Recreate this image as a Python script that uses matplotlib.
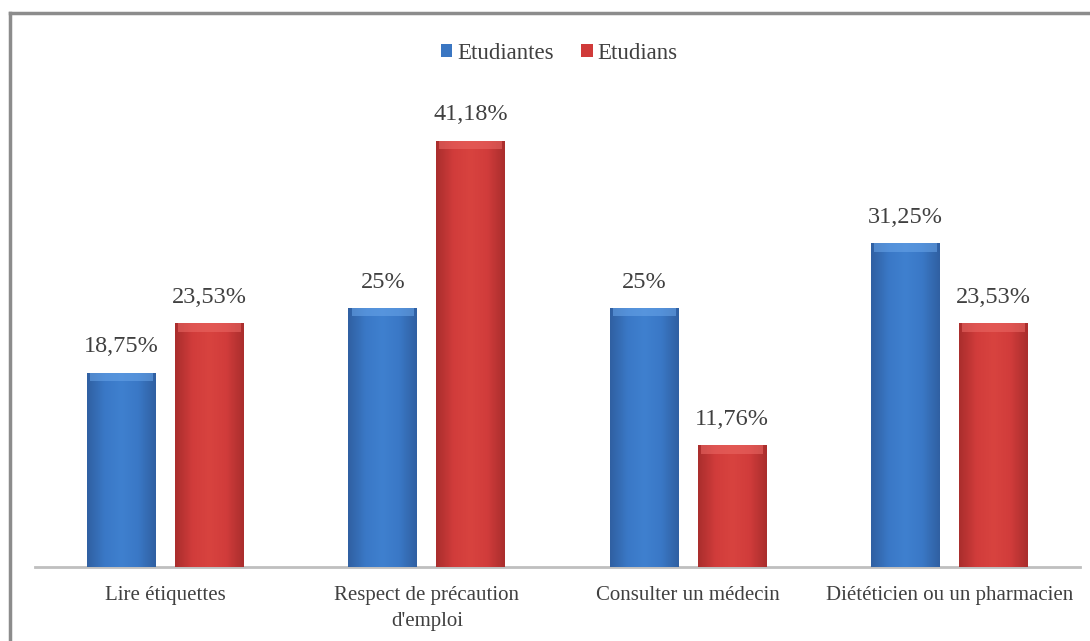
import numpy as np
import matplotlib.pyplot as plt
from matplotlib.lines import Line2D
from matplotlib.colors import LinearSegmentedColormap

categories = ["Lire étiquettes", "Respect de précaution\nd'emploi",
              "Consulter un médecin", "Diététicien ou un pharmacien"]
etudiantes = [18.75, 25, 25, 31.25]
etudians = [23.53, 41.18, 11.76, 23.53]
labels_f = ["18,75%", "25%", "25%", "31,25%"]
labels_m = ["23,53%", "41,18%", "11,76%", "23,53%"]

plt.rcParams['font.family'] = ['Liberation Serif', 'DejaVu Serif']

blue_cm = LinearSegmentedColormap.from_list(
    'b', ['#3060a2', '#3a78c6', '#3f80cf', '#3a78c6', '#3060a2'])
red_cm = LinearSegmentedColormap.from_list(
    'r', ['#aa2e2d', '#d13c3b', '#d8433f', '#d13c3b', '#aa2e2d'])

fig = plt.figure(figsize=(10.9, 6.41), dpi=100)
ax = fig.add_axes([0.032, 0.1154, 0.959, 0.727])

x = np.arange(len(categories))
w = 0.264
off = 0.168
bars_f = ax.bar(x - off, etudiantes, w, color='#3a76c2', label='Etudiantes', zorder=2)
bars_m = ax.bar(x + off, etudians, w, color='#d03a39', label='Etudians', zorder=2)

# horizontal shading inside each bar, plus a lighter cap on top
grad = np.linspace(0, 1, 64).reshape(1, -1)
for bars, cm, cap in [(bars_f, blue_cm, '#6aa6ea'), (bars_m, red_cm, '#ec6a66')]:
    for b in bars:
        x0, y0 = b.get_x(), b.get_y()
        bw, bh = b.get_width(), b.get_height()
        im = ax.imshow(grad, cmap=cm, aspect='auto', zorder=3,
                       extent=(x0, x0 + bw, y0, y0 + bh))
        im.set_clip_path(b)
        ax.fill_between([x0 + 0.012, x0 + bw - 0.012], bh - 0.8, bh,
                        color=cap, alpha=0.55, lw=0, zorder=4)

for xi, v, t in zip(x - off, etudiantes, labels_f):
    ax.text(xi, v + 1.5, t, ha='center', va='bottom', fontsize=17.5, color='#404040')
for xi, v, t in zip(x + off, etudians, labels_m):
    ax.text(xi, v + 1.5, t, ha='center', va='bottom', fontsize=17.5, color='#404040')

ax.set_xlim(-0.5, 3.5)
ax.set_ylim(0, 45)
ax.set_yticks([])
ax.set_xticks(x)
ax.set_xticklabels(categories, fontsize=15, color='#404040', linespacing=1.45)
ax.tick_params(axis='x', length=0, pad=14)
for s in ['top', 'right', 'left']:
    ax.spines[s].set_visible(False)
ax.spines['bottom'].set_color('#bfbfbf')
ax.spines['bottom'].set_linewidth(2)

leg = fig.legend(handles=[bars_f, bars_m], loc='center', bbox_to_anchor=(0.513, 0.917),
                 ncol=2, frameon=False, fontsize=16.5, handlelength=0.5,
                 handleheight=0.5, handletextpad=0.2, columnspacing=1.2,
                 labelcolor='#404040')

# outer chart frame (left and top edges)
fig.add_artist(Line2D([0.009, 0.009], [0, 0.979], color='#8c8c8c', lw=2.5))
fig.add_artist(Line2D([0.009, 1.0], [0.979, 0.979], color='#8c8c8c', lw=2.5))

fig.savefig('out.png', dpi=100)
